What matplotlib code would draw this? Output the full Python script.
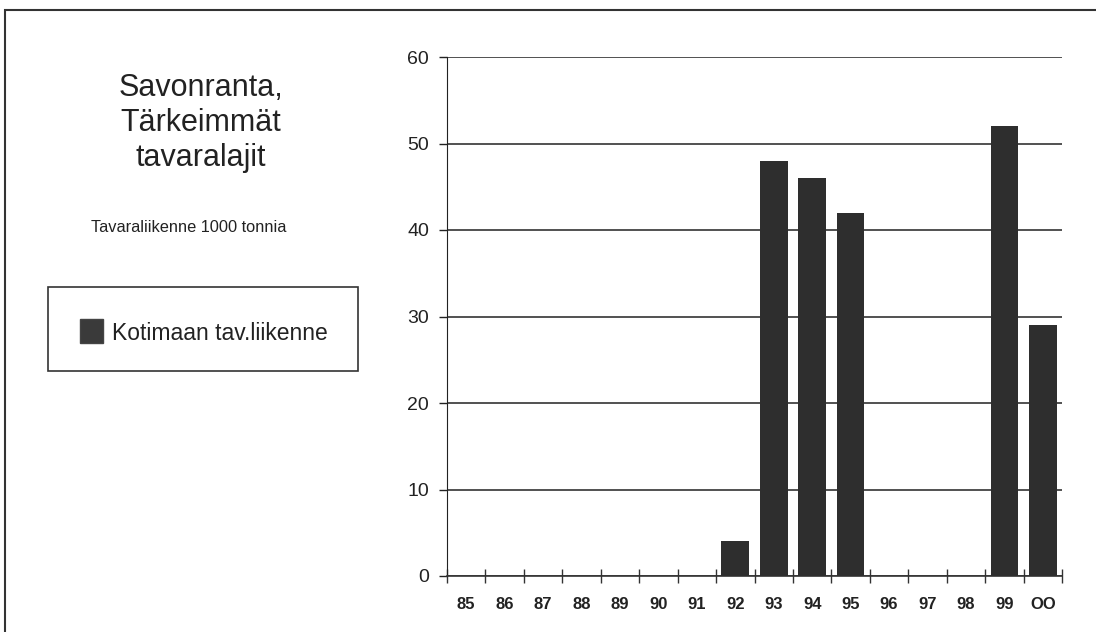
import matplotlib.pyplot as plt
from matplotlib.patches import Rectangle
import numpy as np

plt.rcParams['font.family'] = ['Liberation Sans', 'DejaVu Sans']

years = ['85', '86', '87', '88', '89', '90', '91', '92',
         '93', '94', '95', '96', '97', '98', '99', 'OO']
kotimaan = [0, 0, 0, 0, 0, 0, 0, 4, 48, 46, 42, 0, 0, 0, 52, 29]
series_name = 'Kotimaan tav.liikenne'
title = 'Savonranta,\nTärkeimmät\ntavaralajit'
unit = 'Tavaraliikenne 1000 tonnia'


def main():
    fig = plt.figure(figsize=(10.96, 6.32), dpi=100)
    fig.patch.set_facecolor('white')

    # outer frame of the scanned page
    fig.add_artist(Rectangle((5 / 1096, -0.05), 1.1, (632 - 10) / 632 + 0.05,
                             transform=fig.transFigure, fill=False,
                             edgecolor='#333333', linewidth=1.5))

    ax = fig.add_axes([447 / 1096, 56 / 632, 615 / 1096, 519 / 632])
    x = np.arange(len(years))
    ax.bar(x, kotimaan, width=0.72, color='#2e2e2e', zorder=3)

    ax.set_xlim(-0.5, len(years) - 0.5)
    ax.set_ylim(0, 60)
    ax.set_yticks(np.arange(0, 61, 10))
    ax.yaxis.grid(True, color='#222222', linewidth=1.1, zorder=0)
    ax.tick_params(axis='y', direction='out', length=6, width=1, pad=7,
                   labelsize=14, colors='#222222')

    ax.set_xticks(x)
    ax.set_xticklabels(years, fontweight='bold', fontsize=12,
                       family=['Liberation Sans Narrow', 'Liberation Sans'])
    ax.set_xticks(np.arange(-0.5, len(years), 1.0), minor=True)
    ax.tick_params(axis='x', which='major', length=0, pad=15, colors='#222222')
    ax.tick_params(axis='x', which='minor', direction='inout', length=10,
                   width=1, colors='#333333')

    for s in ['top', 'right']:
        ax.spines[s].set_visible(False)
    ax.spines['left'].set_color('#222222')
    ax.spines['bottom'].set_color('#333333')
    ax.spines['bottom'].set_linewidth(1.2)

    fig.text(201 / 1096, 1 - 123 / 632, title, ha='center', va='center',
             fontsize=22, linespacing=1.2, color='#222222')
    fig.text(189 / 1096, 1 - 228 / 632, unit, ha='center', va='center',
             fontsize=11.8, color='#222222')

    # legend box
    fig.add_artist(Rectangle((48 / 1096, 1 - 371 / 632), 310 / 1096, 84 / 632,
                             transform=fig.transFigure, fill=False,
                             edgecolor='#333333', linewidth=1.2))
    fig.add_artist(Rectangle((80 / 1096, 1 - 343 / 632), 23 / 1096, 24 / 632,
                             transform=fig.transFigure, facecolor='#3a3a3a',
                             edgecolor='#444444'))
    fig.text(112 / 1096, 1 - 333 / 632, series_name, ha='left', va='center',
             fontsize=16.5, color='#222222')

    fig.savefig('out.png', dpi=100)


if __name__ == '__main__':
    main()
